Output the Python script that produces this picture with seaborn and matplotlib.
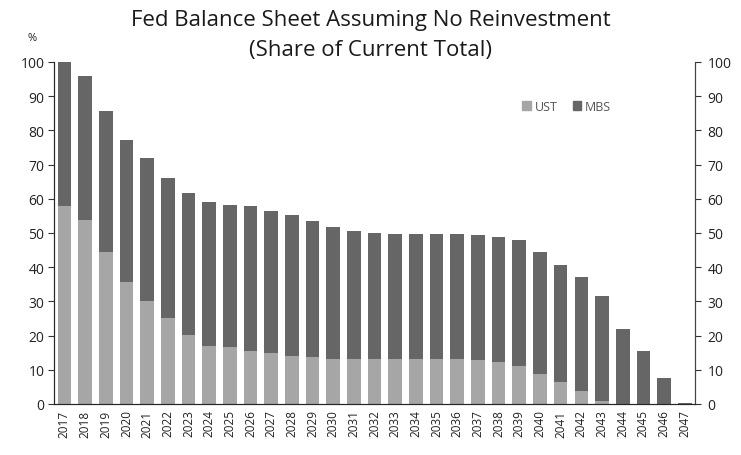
import matplotlib
matplotlib.use('Agg')
import matplotlib.pyplot as plt
from matplotlib.patches import Patch
import seaborn as sns
import pandas as pd
import numpy as np

years = [str(y) for y in range(2017, 2048)]
total = [100, 95.9, 85.7, 77.3, 71.8, 66.2, 61.7, 58.9, 58.2, 57.8, 56.4, 55.2, 53.5, 51.8,
         50.5, 50.1, 49.7, 49.7, 49.7, 49.7, 49.3, 48.8, 47.9, 44.3, 40.5, 37.0, 31.7, 21.8,
         15.4, 7.5, 0.4]
ust = [58.0, 53.8, 44.3, 35.7, 30.2, 25.0, 20.2, 17.0, 16.6, 15.6, 14.9, 14.1, 13.6, 13.2,
       13.2, 13.2, 13.2, 13.2, 13.2, 13.2, 12.7, 12.2, 11.2, 8.8, 6.3, 3.9, 1.0, 0, 0, 0, 0]

ust_color = '#a6a6a6'
mbs_color = '#666666'

df = pd.DataFrame({'year': years, 'total': total, 'UST': ust})

sns.set_style('white')
plt.rcParams['font.family'] = ['Open Sans', 'DejaVu Sans']

fig = plt.figure(figsize=(7.41, 4.56), dpi=100)
ax = fig.add_axes([0.073, 0.112, 0.865, 0.75])

# total bar in MBS colour, UST drawn over it from zero
sns.barplot(data=df, x='year', y='total', color=mbs_color, width=0.66,
            saturation=1, linewidth=0, ax=ax)
sns.barplot(data=df, x='year', y='UST', color=ust_color, width=0.66,
            saturation=1, linewidth=0, ax=ax)

ax.set_xlim(-0.5, len(years) - 0.5)
ax.set_ylim(0, 100)
ax.set_yticks(range(0, 101, 10))
ax.set_xlabel('')
ax.set_ylabel('')
ax.tick_params(axis='x', which='major', length=0, labelsize=8.5, rotation=90, pad=4,
               labelcolor='#222222')
ax.set_xticks(np.arange(-0.5, len(years), 1), minor=True)
ax.tick_params(axis='x', which='minor', length=4, direction='out', color='#333333', width=0.8)
ax.tick_params(axis='y', length=4, direction='out', labelsize=10, color='#333333',
               width=0.8, labelcolor='#222222', pad=3)
for s in ['left', 'bottom', 'right']:
    ax.spines[s].set_color('#444444')
    ax.spines[s].set_linewidth(0.8)
ax.spines['top'].set_visible(False)

ax2 = ax.twinx()
ax2.set_ylim(0, 100)
ax2.set_yticks(range(0, 101, 10))
ax2.tick_params(axis='y', length=4, direction='out', labelsize=10, color='#333333',
                width=0.8, labelcolor='#222222', pad=5)
ax2.spines['top'].set_visible(False)
ax2.spines['right'].set_color('#444444')
ax2.spines['right'].set_linewidth(0.8)

fig.text(0.043, 0.915, '%', fontsize=8, ha='center', va='center', color='#222222')
fig.text(0.5, 0.955, 'Fed Balance Sheet Assuming No Reinvestment', fontsize=16,
         ha='center', va='center', color='#1a1a1a')
fig.text(0.5, 0.89, '(Share of Current Total)', fontsize=16,
         ha='center', va='center', color='#1a1a1a')

handles = [Patch(color=ust_color, label='UST'), Patch(color=mbs_color, label='MBS')]
ax.legend(handles=handles, loc='center', bbox_to_anchor=(0.8, 0.87), ncol=2,
          frameon=False, fontsize=9, handlelength=0.7, handleheight=0.7,
          handletextpad=0.3, columnspacing=1.2, labelcolor='#555555')

fig.savefig('out.png', dpi=100)
